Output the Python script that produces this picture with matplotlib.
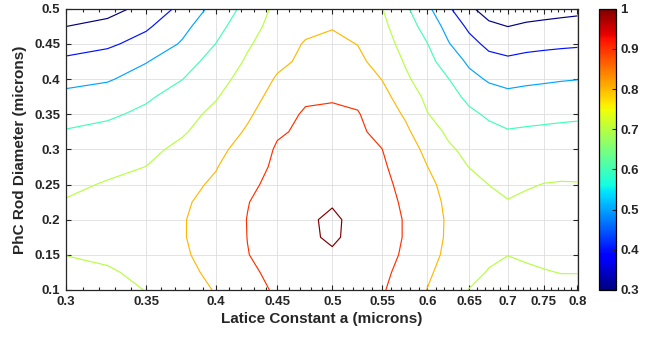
import numpy as np
import matplotlib
matplotlib.use('Agg')
import matplotlib.pyplot as plt
from matplotlib.colors import Normalize
from matplotlib.colorbar import ColorbarBase

plt.rcParams['font.family'] = ['Liberation Sans', 'DejaVu Sans']
plt.rcParams['font.weight'] = 'bold'

# lattice constant a (microns), one column per value
lattice = [0.3, 0.325, 0.35, 0.375, 0.4, 0.425, 0.45, 0.475, 0.5, 0.525, 0.55,
           0.575, 0.6, 0.625, 0.65, 0.675, 0.7, 0.725, 0.75, 0.775, 0.8]
# rod diameter (microns), one row per value
diameter = [0.1, 0.125, 0.15, 0.175, 0.2, 0.225, 0.25, 0.275, 0.3, 0.325,
            0.35, 0.375, 0.4, 0.425, 0.45, 0.475, 0.5]

# values, rows follow diameter
d100 = [0.66, 0.675, 0.702, 0.754, 0.806, 0.870, 0.911, 0.933, 0.955, 0.932, 0.908, 0.859, 0.798, 0.746, 0.697, 0.67, 0.66, 0.66, 0.665, 0.673, 0.673]
d125 = [0.68, 0.687, 0.727, 0.773, 0.824, 0.885, 0.921, 0.948, 0.975, 0.946, 0.917, 0.875, 0.812, 0.769, 0.731, 0.693, 0.68, 0.688, 0.695, 0.702, 0.702]
d150 = [0.701, 0.72, 0.755, 0.787, 0.838, 0.898, 0.930, 0.961, 0.993, 0.960, 0.927, 0.889, 0.827, 0.782, 0.751, 0.72, 0.701, 0.71, 0.72, 0.725, 0.722]
d175 = [0.73, 0.745, 0.772, 0.794, 0.842, 0.901, 0.946, 0.99, 1.008, 0.983, 0.939, 0.894, 0.833, 0.789, 0.764, 0.74, 0.715, 0.73, 0.74, 0.745, 0.742]
d200 = [0.735, 0.76, 0.777, 0.794, 0.841, 0.902, 0.946, 0.991, 1.01, 0.983, 0.939, 0.894, 0.834, 0.79, 0.766, 0.743, 0.718, 0.735, 0.745, 0.75, 0.747]
d225 = [0.706, 0.74, 0.765, 0.787, 0.832, 0.897, 0.94, 0.977, 0.995, 0.972, 0.932, 0.886, 0.828, 0.785, 0.757, 0.728, 0.704, 0.716, 0.728, 0.735, 0.732]
d250 = [0.68, 0.708, 0.737, 0.773, 0.814, 0.883, 0.925, 0.955, 0.978, 0.955, 0.922, 0.876, 0.818, 0.775, 0.737, 0.699, 0.68, 0.692, 0.702, 0.705, 0.704]
d275 = [0.655, 0.677, 0.701, 0.749, 0.795, 0.867, 0.915, 0.94, 0.961, 0.94, 0.912, 0.861, 0.801, 0.747, 0.698, 0.6735, 0.655, 0.665, 0.673, 0.6775, 0.677]
d300 = [0.631, 0.652, 0.678, 0.721, 0.774, 0.840, 0.91, 0.93, 0.944, 0.93, 0.901, 0.841, 0.779, 0.714, 0.674, 0.65, 0.63, 0.638, 0.644, 0.648, 0.649]
d325 = [0.606, 0.625, 0.655, 0.69, 0.746, 0.811, 0.890, 0.915, 0.928, 0.915, 0.875, 0.818, 0.744, 0.682, 0.639, 0.620, 0.606, 0.611, 0.615, 0.618, 0.620]
d350 = [0.566, 0.585, 0.62, 0.67, 0.721, 0.786, 0.86, 0.912, 0.915, 0.906, 0.847, 0.79, 0.703, 0.6625, 0.616, 0.588, 0.566, 0.573, 0.578, 0.583, 0.587]
d375 = [0.522, 0.546, 0.586, 0.639, 0.693, 0.761, 0.835, 0.884, 0.892, 0.88, 0.83, 0.752, 0.68, 0.63, 0.58, 0.539, 0.522, 0.529, 0.534, 0.539, 0.543]
d400 = [0.473, 0.49, 0.543, 0.598, 0.666, 0.736, 0.81, 0.845, 0.868, 0.848, 0.798, 0.715, 0.655, 0.601, 0.528, 0.489, 0.473, 0.482, 0.488, 0.494, 0.498]
d425 = [0.418, 0.445, 0.495, 0.562, 0.635, 0.712, 0.778, 0.82, 0.844, 0.822, 0.761, 0.693, 0.629, 0.554, 0.483, 0.433, 0.418, 0.429, 0.434, 0.44, 0.444]
d450 = [0.359, 0.383, 0.437, 0.509, 0.601, 0.689, 0.753, 0.808, 0.82, 0.798, 0.735, 0.673, 0.602, 0.505, 0.432, 0.376, 0.359, 0.372, 0.38, 0.385, 0.389]
d475 = [0.299, 0.328, 0.385, 0.473, 0.569, 0.66, 0.74, 0.775, 0.795, 0.775, 0.72, 0.648, 0.562, 0.466, 0.38, 0.316, 0.299, 0.312, 0.32, 0.328, 0.336]
d500 = [0.238, 0.265, 0.33, 0.426, 0.533, 0.632, 0.725, 0.757, 0.771, 0.757, 0.703, 0.618, 0.52, 0.413, 0.314, 0.265, 0.24, 0.26, 0.265, 0.27, 0.275]

levels = [0.3, 0.4, 0.5, 0.6, 0.7, 0.8, 0.9, 1.0]
x_ticks = [0.3, 0.35, 0.4, 0.45, 0.5, 0.55, 0.6, 0.65, 0.7, 0.75, 0.8]
x_labels = ['0.3', '0.35', '0.4', '0.45', '0.5', '0.55', '0.6', '0.65', '0.7', '0.75', '0.8']
y_ticks = [0.1, 0.15, 0.2, 0.25, 0.3, 0.35, 0.4, 0.45, 0.5]
y_labels = ['0.1', '0.15', '0.2', '0.25', '0.3', '0.35', '0.4', '0.45', '0.5']
cb_ticks = [0.3, 0.4, 0.5, 0.6, 0.7, 0.8, 0.9, 1.0]
cb_labels = ['0.3', '0.4', '0.5', '0.6', '0.7', '0.8', '0.9', '1']

W, H = 653, 339
fig = plt.figure(figsize=(W / 100, H / 100), dpi=100)
ax = fig.add_axes([65.7 / W, 1 - 290 / H, (577.5 - 65.7) / W, (290 - 8.7) / H])

grid_z = np.array([d100, d125, d150, d175, d200, d225, d250, d275, d300, d325,
                   d350, d375, d400, d425, d450, d475, d500])
norm = Normalize(0.3, 1.0)
ax.contour(lattice, diameter, grid_z, levels=levels, cmap='jet', norm=norm,
           linewidths=0.85)

ax.set_xscale('log')
ax.set_xlim(0.3, 0.8)
ax.set_ylim(0.1, 0.5)
ax.set_xticks(x_ticks)
ax.set_xticklabels(x_labels)
ax.set_xticks(np.arange(0.31, 0.8, 0.01), minor=True)
ax.xaxis.set_minor_formatter(matplotlib.ticker.NullFormatter())
ax.set_yticks(y_ticks)
ax.set_yticklabels(y_labels)
ax.grid(True, which='major', color='#dedede', linewidth=0.6)
ax.set_axisbelow(True)
ax.tick_params(which='both', direction='in', top=True, right=True,
               labelsize=9.5, width=0.8, colors='#262626', pad=4)
ax.tick_params(which='major', length=3.5)
ax.tick_params(which='minor', length=2)
for lbl in ax.get_xticklabels() + ax.get_yticklabels():
    lbl.set_fontweight('bold')
for sp in ax.spines.values():
    sp.set_linewidth(0.9)
    sp.set_color('#262626')

ax.set_xlabel('Latice Constant a (microns)', fontsize=11, fontweight='bold',
              color='#262626', labelpad=3)
ax.set_ylabel('PhC Rod Diameter (microns)', fontsize=11, fontweight='bold',
              color='#262626', labelpad=5)

cax = fig.add_axes([599 / W, 1 - 290 / H, 16.5 / W, (290 - 8.7) / H])
cb = ColorbarBase(cax, cmap=plt.get_cmap('jet'), norm=norm, orientation='vertical')
cb.set_ticks(cb_ticks)
cb.set_ticklabels(cb_labels)
cb.outline.set_linewidth(0.9)
cax.tick_params(direction='in', length=3, width=0.8, labelsize=9.5, colors='#262626')
for lbl in cax.get_yticklabels():
    lbl.set_fontweight('bold')

fig.savefig('out.png', dpi=100)
